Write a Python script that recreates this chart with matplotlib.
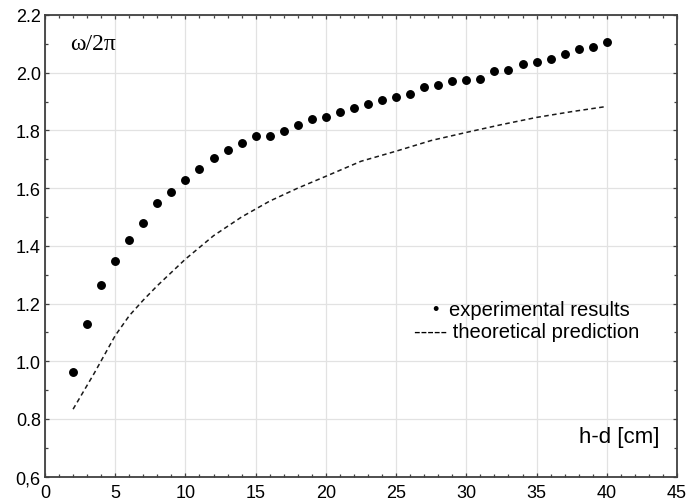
import numpy as np
import matplotlib
matplotlib.use("Agg")
import matplotlib.pyplot as plt
from matplotlib.ticker import MultipleLocator

# experimental points, h-d [cm] vs omega/2pi
exp_x = list(range(2, 41))
exp_y = [0.963, 1.130, 1.264, 1.346, 1.421, 1.479, 1.548, 1.585, 1.628, 1.666,
         1.703, 1.732, 1.755, 1.782, 1.782, 1.797, 1.820, 1.838, 1.848, 1.865,
         1.878, 1.892, 1.906, 1.917, 1.926, 1.952, 1.956, 1.971, 1.975, 1.977,
         2.005, 2.010, 2.030, 2.037, 2.046, 2.065, 2.081, 2.088, 2.107]

# theoretical curve
theo_x = [2, 3.5, 5, 6, 7, 8, 10, 12, 14, 16, 18, 20, 22.5, 25, 27.5, 30, 32.5, 35, 37.5, 40]
theo_y = [0.834, 0.958, 1.089, 1.158, 1.212, 1.262, 1.354, 1.435, 1.500, 1.555,
          1.600, 1.641, 1.693, 1.728, 1.765, 1.793, 1.820, 1.845, 1.865, 1.883]

x_ticks = [0, 5, 10, 15, 20, 25, 30, 35, 40, 45]
y_ticks = [0.6, 0.8, 1.0, 1.2, 1.4, 1.6, 1.8, 2.0, 2.2]
y_tick_labels = ['0,6', '0.8', '1.0', '1.2', '1.4', '1.6', '1.8', '2.0', '2.2']

plt.rcParams['font.family'] = ['Liberation Sans', 'DejaVu Sans']

fig = plt.figure(figsize=(6.88, 5.02), dpi=100)
ax = fig.add_axes([0.0654, 0.0484, 0.9186, 0.9198])

ax.plot(exp_x, exp_y, 'o', color='black', ms=5.4, zorder=3)
ax.plot(theo_x, theo_y, color='#1a1a1a', lw=1.1, dashes=(3.0, 2.2), zorder=2)

ax.set_xlim(0, 45)
ax.set_ylim(0.6, 2.2)
ax.set_xticks(x_ticks)
ax.set_yticks(y_ticks)
ax.set_yticklabels(y_tick_labels)
ax.xaxis.set_minor_locator(MultipleLocator(1))
ax.yaxis.set_minor_locator(MultipleLocator(0.1))

ax.grid(True, which='major', color='#e2e2e2', lw=0.9)
ax.set_axisbelow(True)

for s in ax.spines.values():
    s.set_color('#404040')
    s.set_linewidth(1.3)

ax.tick_params(which='both', direction='in', top=True, right=True, colors='#404040',
               labelcolor='black', labelsize=13)
ax.tick_params(which='major', length=3, width=0.9)
ax.tick_params(axis='x', which='major', pad=5)
ax.tick_params(axis='y', which='major', pad=3)
ax.tick_params(which='minor', length=2.5, width=0.9)

ax.text(0.039, 0.939, r'ω/2π', transform=ax.transAxes, fontsize=17,
        family=['Liberation Serif', 'DejaVu Serif'], va='center', ha='left')
ax.text(0.973, 0.086, 'h-d [cm]', transform=ax.transAxes, fontsize=16,
        va='center', ha='right')

# hand-written style legend text
ax.text(27.8, 1.178, '•', fontsize=13, va='center', ha='center')
ax.text(28.75, 1.178, 'experimental results', fontsize=14.5, va='center', ha='left')
ax.text(26.3, 1.102, '----- theoretical prediction', fontsize=14.5, va='center', ha='left')

fig.savefig('out.png', dpi=100)
